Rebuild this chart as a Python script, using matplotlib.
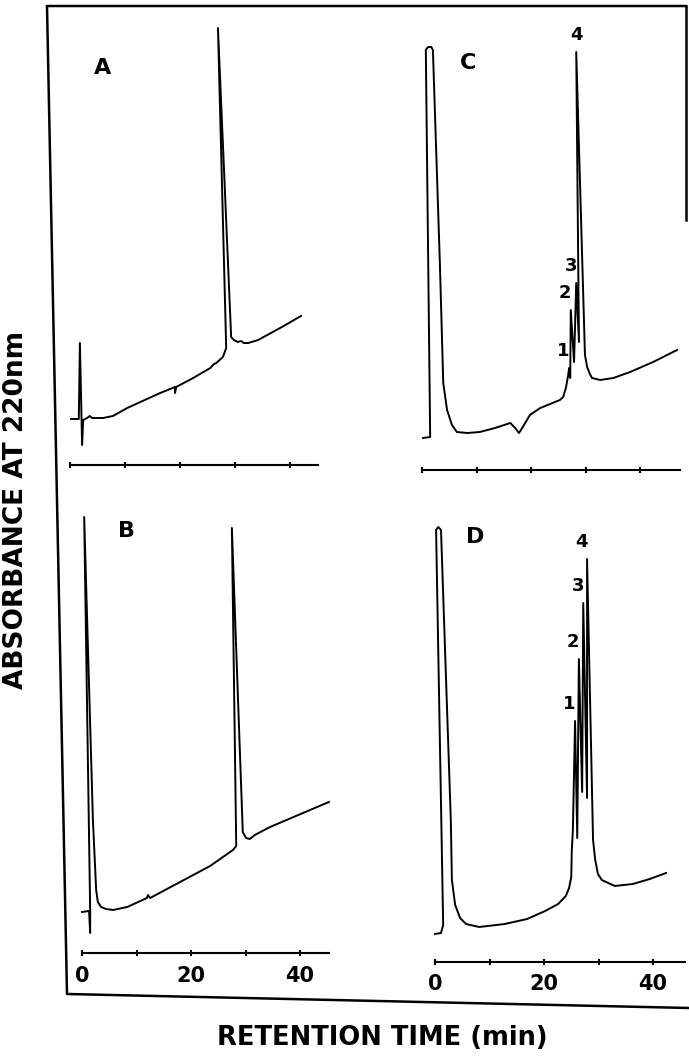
import matplotlib.pyplot as plt

# retention time (min) and absorbance at 220 nm (arbitrary units)
a_time = [0.2, 1.6, 1.8, 2.2, 2.4, 3.1, 3.6, 4.0, 6.0, 7.8, 10.4, 16.4, 19.1, 19.1, 19.3, 22.4,
          25.5, 26.2, 26.6, 27.8, 28.4, 26.9, 29.3, 29.8, 30.5, 31.1, 31.6, 32.4, 34.2, 38.2, 42.0]
a_abs = [0.46, 0.46, 1.22, 0.20, 0.45, 0.47, 0.49, 0.47, 0.47, 0.49, 0.57, 0.72, 0.78, 0.72, 0.78, 0.87,
         0.97, 1.01, 1.02, 1.08, 1.17, 4.37, 1.28, 1.25, 1.23, 1.24, 1.22, 1.22, 1.25, 1.37, 1.49]

b_time = [0.0, 1.3, 1.5, 1.5, 0.4, 2.0, 2.6, 2.9, 3.5, 4.4, 5.7, 8.3, 11.9, 12.1, 12.5, 18.0,
          23.5, 27.7, 28.3, 27.5, 29.5, 30.1, 30.8, 31.7, 34.5, 45.3]
b_abs = [0.41, 0.42, 0.20, 0.42, 4.36, 1.33, 0.63, 0.51, 0.46, 0.44, 0.43, 0.46, 0.55, 0.58, 0.55, 0.71,
         0.87, 1.03, 1.07, 4.25, 1.21, 1.15, 1.14, 1.18, 1.26, 1.51]

c_time = [0.2, 1.5, 0.7, 1.1, 1.7, 2.0, 3.3, 3.9, 4.6, 5.5, 6.4, 8.3, 10.6, 13.4, 16.2, 17.1,
          17.8, 18.5, 19.8, 21.7, 25.3, 25.9, 26.4, 26.8, 27.0, 27.2, 27.3, 27.9, 28.3, 28.8,
          28.3, 29.9, 30.3, 30.8, 31.2, 32.7, 35.1, 38.2, 42.4, 46.8]
c_abs = [0.32, 0.33, 4.20, 4.23, 4.23, 4.20, 2.03, 0.87, 0.60, 0.45, 0.38, 0.37, 0.38, 0.42, 0.47, 0.42,
         0.37, 0.43, 0.55, 0.62, 0.70, 0.73, 0.82, 0.94, 1.02, 0.92, 1.60, 1.08, 1.87, 1.28,
         4.18, 1.15, 1.03, 0.96, 0.92, 0.90, 0.92, 0.98, 1.08, 1.20]
c_peak_idx = [24, 26, 28, 30]

d_time = [0.0, 1.1, 1.5, 0.2, 0.6, 1.1, 2.9, 3.1, 3.7, 4.6, 5.7, 8.1, 12.8, 16.9, 20.2, 22.6,
          24.0, 24.6, 25.0, 25.1, 25.3, 25.7, 26.1, 26.4, 27.0, 27.2, 27.9, 27.9, 29.0, 29.4,
          29.9, 30.6, 31.4, 33.0, 36.3, 39.4, 42.4]
d_abs = [0.28, 0.29, 0.37, 4.32, 4.35, 4.32, 1.42, 0.82, 0.57, 0.44, 0.38, 0.35, 0.38, 0.43, 0.51, 0.58,
         0.66, 0.74, 0.85, 1.12, 1.32, 2.41, 1.24, 3.03, 1.70, 3.59, 1.64, 4.03, 1.22, 1.02,
         0.88, 0.82, 0.80, 0.76, 0.78, 0.83, 0.89]
d_peak_idx = [21, 23, 25, 27]

peak_names = ['1', '2', '3', '4']
time_ticks = [0, 10, 20, 30, 40]
time_labels = ['0', '', '20', '', '40']

W, H = 689, 1056
fig = plt.figure(figsize=(W / 100, H / 100), dpi=100)

# hand-drawn frame round the panels, in pixel space
frame = fig.add_axes([0, 0, 1, 1])
frame.set_xlim(0, W)
frame.set_ylim(H, 0)
frame.axis('off')
frame.plot([686, 47, 67, 689], [6, 6, 994, 1008], color='black', lw=1.8)
frame.plot([686, 686], [6, 220], color='black', lw=1.8)


def chromatogram(x0, y0, px_min, t, a, t_end, show_labels):
    # x0, y0: pixel position of t=0 on the time axis, px_min: pixels per minute
    ax = fig.add_axes([(x0 - 3 * px_min) / W, 1 - (y0 + 40) / H, 53 * px_min / W, 500 / H])
    ax.set_xlim(-3, 50)
    ax.set_ylim(-0.4, 4.6)
    ax.patch.set_visible(False)
    ax.plot(t, a, color='black', lw=1.4, solid_joinstyle='round')
    for s in ['left', 'right', 'top']:
        ax.spines[s].set_visible(False)
    ax.spines['bottom'].set_position(('data', 0))
    ax.spines['bottom'].set_bounds(0, t_end)
    ax.spines['bottom'].set_linewidth(1.5)
    ax.set_yticks([])
    ax.set_xticks(time_ticks)
    ax.set_xticklabels(time_labels if show_labels else [''] * 5)
    ax.tick_params(axis='x', direction='inout', length=4, width=1.5, pad=7, labelsize=15)
    plt.setp(ax.get_xticklabels(), fontweight='bold')
    return ax


axA = chromatogram(70, 465, 5.5, a_time, a_abs, 45.1, False)
axB = chromatogram(82, 953, 5.45, b_time, b_abs, 45.3, True)
axC = chromatogram(422, 470, 5.45, c_time, c_abs, 47.3, False)
axD = chromatogram(435, 962, 5.45, d_time, d_abs, 45.9, True)

for ax, t, a, idx in [(axC, c_time, c_abs, c_peak_idx), (axD, d_time, d_abs, d_peak_idx)]:
    for name, i in zip(peak_names, idx):
        dx = 0 if (ax is axC and name == '4') else -4
        ax.annotate(name, (t[i], a[i]), xytext=(dx, 12.5), textcoords='offset points',
                    ha='center', va='center', fontsize=13, fontweight='bold')

for letter, x, y in [('A', 103, 68), ('B', 127, 531), ('C', 468, 63), ('D', 475, 537)]:
    fig.text(x / W, 1 - y / H, letter, ha='center', va='center', fontsize=16, fontweight='bold')

fig.text(16 / W, 1 - 510 / H, 'ABSORBANCE AT 220nm', rotation=90, ha='center', va='center',
         fontsize=19, fontweight='bold')
fig.text(382 / W, 1 - 1038 / H, 'RETENTION TIME (min)', ha='center', va='center',
         fontsize=18.5, fontweight='bold')

fig.savefig('out.png', dpi=100)
